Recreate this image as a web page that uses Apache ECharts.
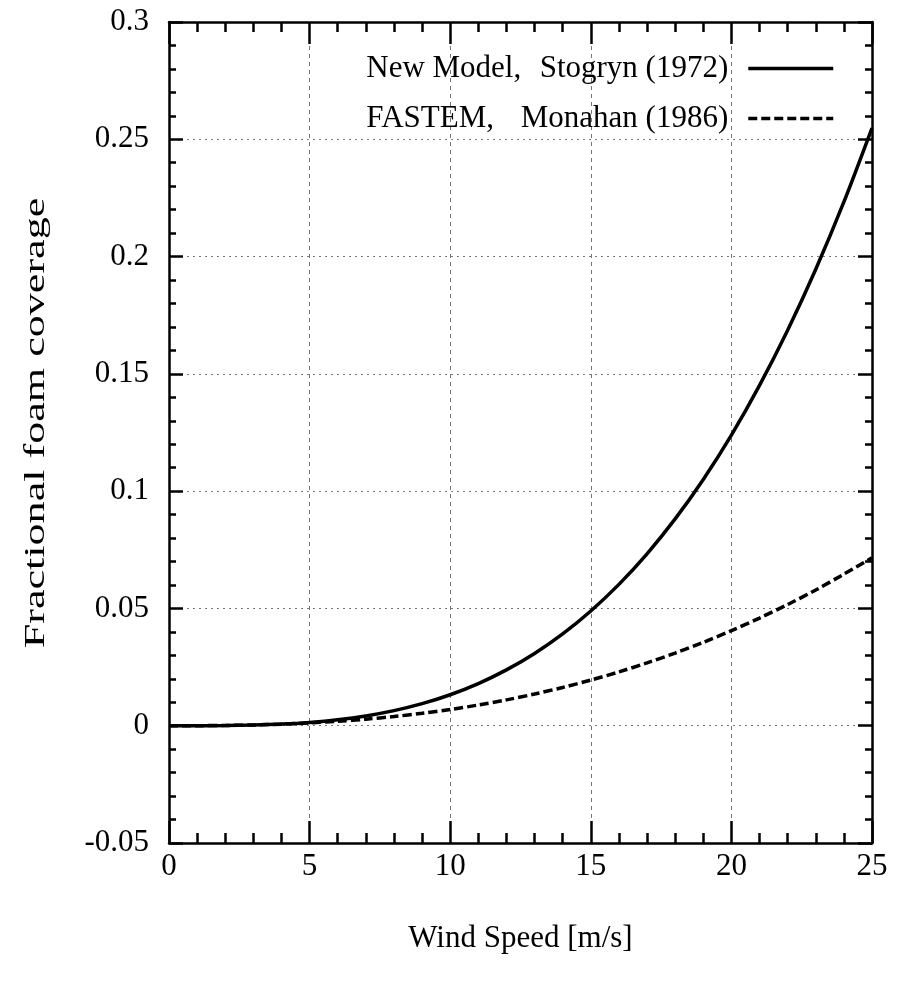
<!DOCTYPE html>
<html>
<head>
<meta charset="utf-8">
<script src="https://cdn.jsdelivr.net/npm/echarts@6/dist/echarts.min.js"></script>
<style>html,body{margin:0;padding:0;background:#fff}#c{width:903px;height:984px}</style>
</head>
<body>
<div id="c"></div>
<script>
const windSpeed = [0,1,2,3,4,5,6,7,8,9,10,11,12,13,14,15,16,17,18,19,20,21,22,23,24,25];
const newModelStogryn = [0,0.0000078,0.0000728,0.00027,0.000683,0.001405,0.002533,0.004166,0.006417,0.00939,0.013194,0.01795,0.02379,0.03081,0.03915,0.04893,0.06026,0.0733,0.08816,0.105,0.1239,0.1451,0.1686,0.1946,0.2233,0.2548];
const fastemMonahan = [0,0.0000195,0.000114,0.000321,0.000669,0.001181,0.001881,0.002786,0.003916,0.005288,0.006919,0.008825,0.01102,0.01351,0.01632,0.01947,0.02294,0.02678,0.03098,0.03555,0.04052,0.04589,0.05166,0.05787,0.06461,0.0716];
const xTicks = {min: 0, max: 25, step: 5};
const yTicks = {min: -0.05, max: 0.3, step: 0.05};
const seriesNames = ['New Model', 'FASTEM'];
const legendLabels = {'New Model': ['New Model,', 'Stogryn (1972)'], 'FASTEM': ['FASTEM,', 'Monahan (1986)']};

const FONT = 'Liberation Serif';
const chart = echarts.init(document.getElementById('c'), null, {renderer: 'canvas'});
const pairs = a => windSpeed.map((x, i) => [x, a[i]]);
const frame = () => ({onZero: false, lineStyle: {color: '#000', width: 2.5}});
const tick = len => ({show: true, inside: true, length: len, lineStyle: {color: '#000', width: 2.5}});
const minor = len => ({show: true, splitNumber: 5, length: len, lineStyle: {color: '#000', width: 2.5}});
const grid = dash => ({show: true, lineStyle: {color: '#777', width: 1, type: dash}});
const fmtY = v => String(+v.toFixed(2));

chart.setOption({
  animation: false,
  backgroundColor: '#fff',
  grid: {left: 169, right: 31, top: 22, bottom: 141, containLabel: false},
  xAxis: [
    {type: 'value', min: xTicks.min, max: xTicks.max, interval: xTicks.step, position: 'bottom',
     axisLine: frame(), axisTick: tick(22), minorTick: minor(10), splitLine: grid([4, 4]),
     axisLabel: {fontFamily: FONT, fontSize: 31, color: '#000', margin: 8},
     name: 'Wind Speed [m/s]', nameLocation: 'middle', nameGap: 80,
     nameTextStyle: {fontFamily: FONT, fontSize: 31, color: '#000'}},
    {type: 'value', min: xTicks.min, max: xTicks.max, interval: xTicks.step, position: 'top',
     axisLine: frame(), axisTick: tick(22), minorTick: minor(10), splitLine: {show: false}, axisLabel: {show: false}}
  ],
  yAxis: [
    {type: 'value', min: yTicks.min, max: yTicks.max, interval: yTicks.step, position: 'left',
     axisLine: frame(), axisTick: tick(14), minorTick: minor(7), splitLine: grid([2, 4]),
     axisLabel: {fontFamily: FONT, fontSize: 31, color: '#000', margin: 20, formatter: fmtY}},
    {type: 'value', min: yTicks.min, max: yTicks.max, interval: yTicks.step, position: 'right',
     axisLine: frame(), axisTick: tick(14), minorTick: minor(7), splitLine: {show: false}, axisLabel: {show: false}}
  ],
  legend: {
    orient: 'vertical', align: 'right', right: 68, top: 53, padding: 0,
    itemWidth: 85, itemHeight: 14, itemGap: 19,
    data: seriesNames,
    itemStyle: {opacity: 0},
    lineStyle: {width: 3.5},
    formatter: n => '{a|' + legendLabels[n][0] + '}{b|' + legendLabels[n][1] + '}',
    textStyle: {
      fontFamily: FONT, fontSize: 31, color: '#000',
      rich: {
        a: {fontFamily: FONT, fontSize: 31, color: '#000', width: 172, align: 'left', lineHeight: 36},
        b: {fontFamily: FONT, fontSize: 31, color: '#000', width: 190, align: 'right', lineHeight: 36, padding: [0, 15, 0, 0]}
      }
    }
  },
  graphic: [{
    type: 'text', x: 36, y: 423, rotation: Math.PI / 2, scaleX: 1.47, scaleY: 1,
    style: {text: 'Fractional foam coverage', font: '30px "Liberation Serif"', fill: '#000', align: 'center', verticalAlign: 'middle'}
  }],
  series: [
    {name: seriesNames[0], type: 'line', data: pairs(newModelStogryn), showSymbol: false, symbol: 'none',
     smooth: 0.3, lineStyle: {color: '#000', width: 3.5, type: 'solid'}, itemStyle: {color: '#000'}, z: 3},
    {name: seriesNames[1], type: 'line', data: pairs(fastemMonahan), showSymbol: false, symbol: 'none',
     smooth: 0.3, lineStyle: {color: '#000', width: 3.5, type: [9, 4]}, itemStyle: {color: '#000'}, z: 3}
  ]
});
</script>
</body>
</html>
